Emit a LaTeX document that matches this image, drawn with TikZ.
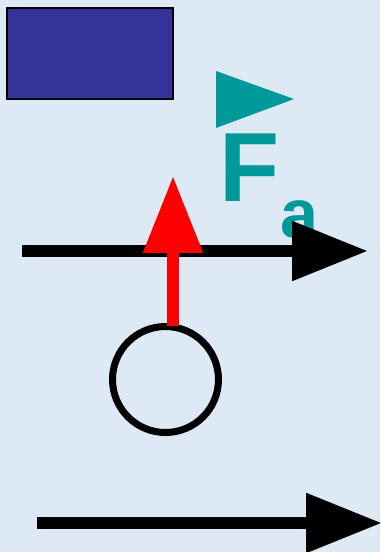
\documentclass[tikz,border=0pt]{standalone}
\usepackage{fontspec}
\setmainfont{Liberation Sans}
\usetikzlibrary{arrows.meta}
\definecolor{bgblue}{RGB}{221,234,246}
\definecolor{boxblue}{RGB}{51,51,153}
\definecolor{forceteal}{RGB}{0,153,153}
\definecolor{forcered}{RGB}{255,0,0}

\begin{document}
\begin{tikzpicture}[x=0.02cm,y=-0.02cm,
  bigarrow/.style={line width=0.24cm,-{Triangle[length=1.52cm,width=1.14cm]}},
  label/.style={text=forceteal,font=\bfseries,inner sep=0pt,anchor=base west}]
% background and frame
\fill[bgblue] (0,0) rectangle (380,552);
\useasboundingbox (0,0) rectangle (380,552);
\clip (0,0) rectangle (380,552);
\draw[fill=boxblue,line width=0.04cm] (7,8) rectangle (173,99);
% force symbol
\fill[forceteal] (216,71) -- (294,99) -- (216,128) -- cycle;
\node[label,font=\fontsize{56}{56}\selectfont\bfseries] (F) at (219,201) {F};
\node[label,font=\fontsize{39}{39}\selectfont\bfseries] (sub) at (280,237) {a};
% body
\node[draw,circle,line width=0.14cm,minimum size=2.12cm,inner sep=0pt] (ball) at (165.5,379.5) {};
% lines of motion
\coordinate (topL) at (22,251);
\coordinate (topR) at (368,251);
\draw[bigarrow] (topL) -- (topR);
\coordinate (botL) at (37,523);
\coordinate (botR) at (382,523);
\draw[bigarrow] (botL) -- (botR);
% force on the body
\coordinate (tip) at (173,176);
\draw[forcered,line width=0.24cm,-{Triangle[length=1.54cm,width=1.14cm]}] (173,326) -- (tip);
\end{tikzpicture}
\end{document}
